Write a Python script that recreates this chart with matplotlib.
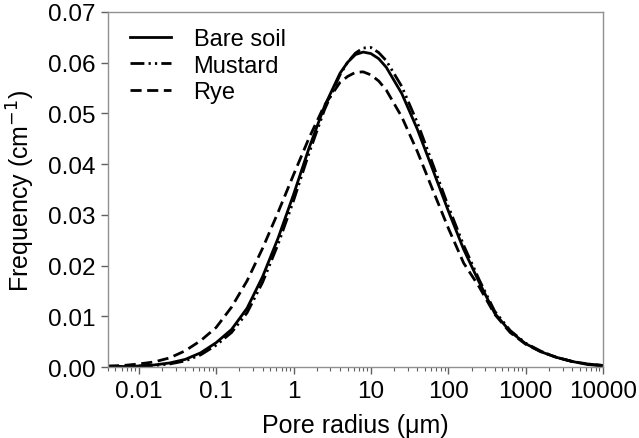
import numpy as np
import matplotlib
matplotlib.use('Agg')
matplotlib.rcParams.update({'font.size': 17.5, 'font.family': ['Liberation Sans', 'DejaVu Sans']})
import matplotlib.pyplot as plt
from matplotlib.ticker import FixedLocator, FormatStrFormatter, LogLocator, NullFormatter

# pore radius (um), read every 0.2 decade off the picture (0.1 around the peak)
radius = [0.004, 0.0063, 0.01, 0.0158, 0.0251, 0.0398, 0.0631, 0.1, 0.158, 0.251,
          0.398, 0.631, 1.0, 1.58, 2.51, 3.98, 5.01, 6.31, 7.94, 10.0, 12.6, 15.8, 25.1,
          39.8, 63.1, 100.0, 158.0, 251.0, 398.0, 631.0, 1000.0, 1580.0, 2510.0,
          3980.0, 6310.0, 10000.0]

bare_soil = [0.0001, 0.0001, 0.0002, 0.0004, 0.0008, 0.0015, 0.0028, 0.0048, 0.0074, 0.0116,
             0.0178, 0.0254, 0.0340, 0.0431, 0.0514, 0.0579, 0.0601, 0.0616, 0.0621, 0.0618,
             0.0608, 0.0591, 0.0539,
             0.0469, 0.0389, 0.0308, 0.0232, 0.0167, 0.0106, 0.0070, 0.0046, 0.0030, 0.0019,
             0.0011, 0.0005, 0.0002]

mustard = [0.0001, 0.0001, 0.0002, 0.0003, 0.0006, 0.0012, 0.0024, 0.0043, 0.0068, 0.0107,
           0.0167, 0.0242, 0.0328, 0.0421, 0.0507, 0.0576, 0.0601, 0.0619, 0.0629, 0.0630,
           0.0620, 0.0604, 0.0553,
           0.0482, 0.0400, 0.0317, 0.0240, 0.0172, 0.0110, 0.0072, 0.0047, 0.0031, 0.0019,
           0.0011, 0.0006, 0.0003]

rye = [0.0002, 0.0003, 0.0006, 0.0010, 0.0018, 0.0032, 0.0052, 0.0078, 0.0118, 0.0170,
       0.0234, 0.0305, 0.0379, 0.0451, 0.0516, 0.0561, 0.0573, 0.0581, 0.0582, 0.0576,
       0.0564, 0.0546, 0.0493,
       0.0425, 0.0349, 0.0274, 0.0205, 0.0158, 0.0104, 0.0068, 0.0045, 0.0030, 0.0019,
       0.0011, 0.0006, 0.0003]

xticks = [0.01, 0.1, 1, 10, 100, 1000, 10000]
xticklabels = ['0.01', '0.1', '1', '10', '100', '1000', '10000']

fig = plt.figure(figsize=(6.39, 4.39), dpi=100)
ax = fig.add_axes([0.169, 0.1617, 0.7747, 0.8087])

ax.plot(radius, bare_soil, color='black', lw=2, label='Bare soil')
ax.plot(radius, mustard, color='black', lw=2, dashes=(5, 1.5, 0.8, 1.5, 0.8, 1.5), label='Mustard')
ax.plot(radius, rye, color='black', lw=2, dashes=(4, 2), label='Rye')

ax.set_xscale('log')
ax.set_xlim(0.004, 10000)
ax.set_ylim(0, 0.07)
ax.xaxis.set_major_locator(FixedLocator(xticks))
ax.set_xticklabels(xticklabels)
ax.xaxis.set_minor_locator(LogLocator(base=10, subs=np.arange(2, 10), numticks=20))
ax.xaxis.set_minor_formatter(NullFormatter())
ax.set_yticks(np.arange(0, 0.071, 0.01))
ax.yaxis.set_major_formatter(FormatStrFormatter('%.2f'))

for s in ax.spines.values():
    s.set_color('#909090')
    s.set_linewidth(1)
ax.tick_params(which='major', direction='out', length=5, width=1, color='#606060', pad=4)
ax.tick_params(which='minor', direction='out', length=3, width=0.8, color='#606060')

ax.set_xlabel('Pore radius (\u03bcm)', fontsize=18, labelpad=8)
ax.set_ylabel('Frequency (cm$^{-1}$)', fontsize=18, labelpad=8)

ax.legend(loc='upper left', frameon=False, handlelength=1.75, labelspacing=0.2,
          handletextpad=0.95, borderpad=0, borderaxespad=0,
          bbox_to_anchor=(0.044, 0.955), fontsize=17)

plt.savefig('out.png', dpi=100, facecolor='white')
